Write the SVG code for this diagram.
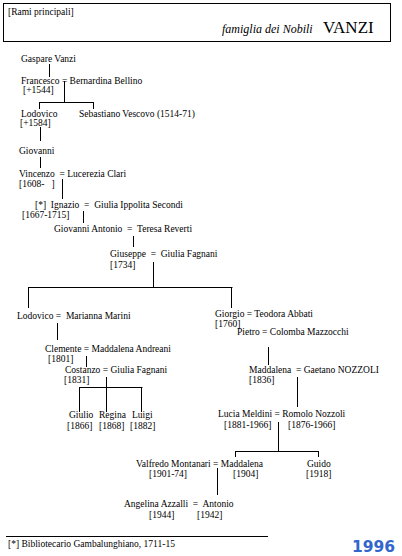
<svg xmlns="http://www.w3.org/2000/svg" width="402" height="556" viewBox="0 0 402 556" xml:space="preserve">
<style>
text{font-family:"Liberation Serif","Times New Roman",serif;font-size:9.5px;fill:#000;white-space:pre}
.ln{stroke:#000;stroke-width:1;fill:none}
.it{font-style:italic;font-size:12px}
.big{font-size:17px}
.yr{font-family:"DejaVu Sans","Liberation Sans",sans-serif;font-weight:bold;font-size:15.5px;fill:#3366cc}
</style>
<rect x="3.5" y="3.5" width="387" height="38" fill="#fff" stroke="#000" stroke-width="1"/>
<text x="8" y="15">[Rami principali]</text>
<text class="it" x="222" y="33">famiglia dei Nobili</text>
<text class="big" x="323" y="33">VANZI</text>
<g id="connectors" class="ln">
<path d="M49.5 64V77"/>
<path d="M64.5 81V102.5M39 102.5H94M39.5 102V109M93.5 102V109"/>
<path d="M40.5 127V141"/>
<path d="M40.5 157V168"/>
<path d="M62.5 179V199"/>
<path d="M83.5 211V223"/>
<path d="M133.5 236V247"/>
<path d="M153.5 262V287.5M28 287.5H232.5M28.5 287V308M231.5 287V308"/>
<path d="M57.5 323V340"/>
<path d="M86.5 356V367"/>
<path d="M106.5 377V387.5M79 387.5H142.5M79.5 387V412M106.5 387V412M141.5 387V412"/>
<path d="M268.5 347V365"/>
<path d="M297.5 377V407"/>
<path d="M278.5 422V451.5M235 451.5H319M235.5 451V457M318.5 451V457"/>
<path d="M217.5 468V495"/>
<path d="M6 536.5H268"/>
</g>
<g id="gaspare"><text x="21" y="62">Gaspare Vanzi</text></g>
<g id="francesco"><text x="21" y="84">Francesco = Bernardina Bellino</text><text x="23" y="93">[+1544]</text></g>
<g id="lodovico1"><text x="21" y="117">Lodovico</text><text x="20" y="126">[+1584]</text></g>
<g id="sebastiano"><text x="79" y="117">Sebastiano Vescovo (1514-71)</text></g>
<g id="giovanni"><text x="19" y="154">Giovanni</text></g>
<g id="vincenzo"><text x="19" y="177">Vincenzo  = Lucerezia Clari</text><text x="19" y="187">[1608-   ]</text></g>
<g id="ignazio"><text x="35" y="207.5">[*]  Ignazio  =  Giulia Ippolita Secondi</text><text x="22" y="217.5">[1667-1715]</text></g>
<g id="giovanniantonio"><text x="54" y="232">Giovanni Antonio  =  Teresa Reverti</text></g>
<g id="giuseppe"><text x="110" y="257">Giuseppe  =  Giulia Fagnani</text><text x="110" y="268">[1734]</text></g>
<g id="lodovico2"><text x="17" y="319">Lodovico =  Marianna Marini</text></g>
<g id="clemente"><text x="45" y="352">Clemente = Maddalena Andreani</text><text x="48" y="362">[1801]</text></g>
<g id="costanzo"><text x="65" y="373">Costanzo = Giulia Fagnani</text><text x="64" y="383">[1831]</text></g>
<g id="giulio"><text x="69" y="418">Giulio</text><text x="67" y="429">[1866]</text></g>
<g id="regina"><text x="99" y="418">Regina</text><text x="99" y="429">[1868]</text></g>
<g id="luigi"><text x="132" y="418">Luigi</text><text x="130" y="429">[1882]</text></g>
<g id="giorgio"><text x="215" y="317">Giorgio = Teodora Abbati</text><text x="215" y="327">[1760]</text></g>
<g id="pietro"><text x="237" y="335">Pietro = Colomba Mazzocchi</text></g>
<g id="maddalena1"><text x="249" y="373">Maddalena  = Gaetano NOZZOLI</text><text x="249" y="383">[1836]</text></g>
<g id="lucia"><text x="218" y="417">Lucia Meldini = Romolo Nozzoli</text><text x="224" y="428">[1881-1966]</text><text x="288" y="428">[1876-1966]</text></g>
<g id="valfredo"><text x="136" y="467">Valfredo Montanari = Maddalena</text><text x="149" y="477">[1901-74]</text><text x="233" y="477">[1904]</text></g>
<g id="guido"><text x="307" y="467">Guido</text><text x="306" y="477">[1918]</text></g>
<g id="antonio"><text x="124" y="507">Angelina Azzalli  =  Antonio</text><text x="149" y="518">[1944]</text><text x="197" y="518">[1942]</text></g>
<g id="note"><text x="8" y="547">[*] Bibliotecario Gambalunghiano, 1711-15</text></g>
<text class="yr" x="352" y="552">1996</text>
</svg>
